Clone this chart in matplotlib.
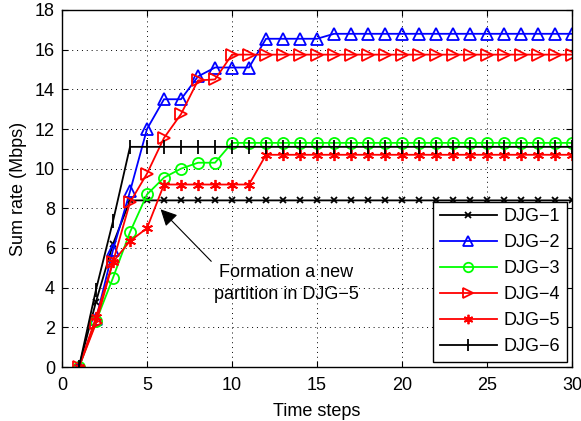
import matplotlib
matplotlib.use("Agg")
import matplotlib.pyplot as plt
import numpy as np

plt.rcParams['font.family'] = ['Liberation Sans', 'DejaVu Sans']

steps = list(range(1, 31))
djg1 = [0, 3.3, 6.2, 8.4] + [8.4] * 26
djg2 = [0, 2.4, 5.9, 8.85, 12.0, 13.5, 13.5, 14.65, 15.1, 15.1, 15.1] + [16.55] * 4 + [16.8] * 15
djg3 = [0, 2.3, 4.5, 6.8, 8.7, 9.55, 10.0, 10.3, 10.3] + [11.3] * 21
djg4 = [0, 2.2, 5.3, 8.3, 9.75, 11.55, 12.75, 14.45, 14.5] + [15.75] * 21
djg5 = [0, 2.5, 5.3, 6.35, 7.0] + [9.2] * 6 + [10.7] * 19
djg6 = [0, 3.9, 7.35] + [11.1] * 27

labels = ['DJG\u22121', 'DJG\u22122', 'DJG\u22123', 'DJG\u22124', 'DJG\u22125', 'DJG\u22126']
xticks = [0, 5, 10, 15, 20, 25, 30]
yticks = [0, 2, 4, 6, 8, 10, 12, 14, 16, 18]

fs = 13
fig = plt.figure(figsize=(5.81, 4.21), dpi=100)
ax = fig.add_axes([62/581, 1-367/421, (572-62)/581, (367-10)/421])

lw = 1.3
ax.plot(steps, djg1, color='k', marker='x', ms=5, mew=1.3, lw=lw, label=labels[0])
ax.plot(steps, djg2, color='b', marker='^', ms=9, mfc='none', mew=1.3, lw=lw, label=labels[1])
ax.plot(steps, djg3, color=(0, 1, 0), marker='o', ms=8, mfc='none', mew=1.3, lw=lw, label=labels[2])
ax.plot(steps, djg4, color='r', marker='>', ms=9, mfc='none', mew=1.3, lw=lw, label=labels[3])
ax.plot(steps, djg5, color='r', marker=(6, 2, 0), ms=8, mew=1.3, lw=lw, label=labels[4])
ax.plot(steps, djg6, color='k', marker='|', ms=10, mew=1.3, lw=lw, label=labels[5])

ax.set_xlim(0, 30)
ax.set_ylim(0, 18)
ax.set_xticks(xticks)
ax.set_yticks(yticks)
ax.tick_params(direction='in', top=True, right=True, labelsize=fs, length=4)
ax.tick_params(axis='x', pad=7)
ax.tick_params(axis='y', pad=5)
ax.grid(True, linestyle=(0, (1, 4)), color='k', lw=0.7)
for s in ax.spines.values():
    s.set_linewidth(1.0)
ax.set_xlabel('Time steps', fontsize=fs, labelpad=7)
ax.set_ylabel('Sum rate (Mbps)', fontsize=fs, labelpad=5.5)

ax.annotate('Formation a new\npartition in DJG\u22125', xy=(5.8, 7.95), xytext=(13.2, 4.2),
            ha='center', va='center', fontsize=fs, linespacing=1.4,
            arrowprops=dict(arrowstyle='-|>', color='k', lw=0.8, mutation_scale=25,
                            shrinkA=0, shrinkB=0, relpos=(0.0, 1.0)))

leg = ax.legend(loc='lower right', fontsize=fs, frameon=True, fancybox=False,
                edgecolor='k', framealpha=1, borderaxespad=0.3, handlelength=3.2,
                labelspacing=0.5, borderpad=0.35, handletextpad=0.35, markerscale=0.85)
leg.get_frame().set_linewidth(1.0)

fig.savefig('out.png', dpi=100)
